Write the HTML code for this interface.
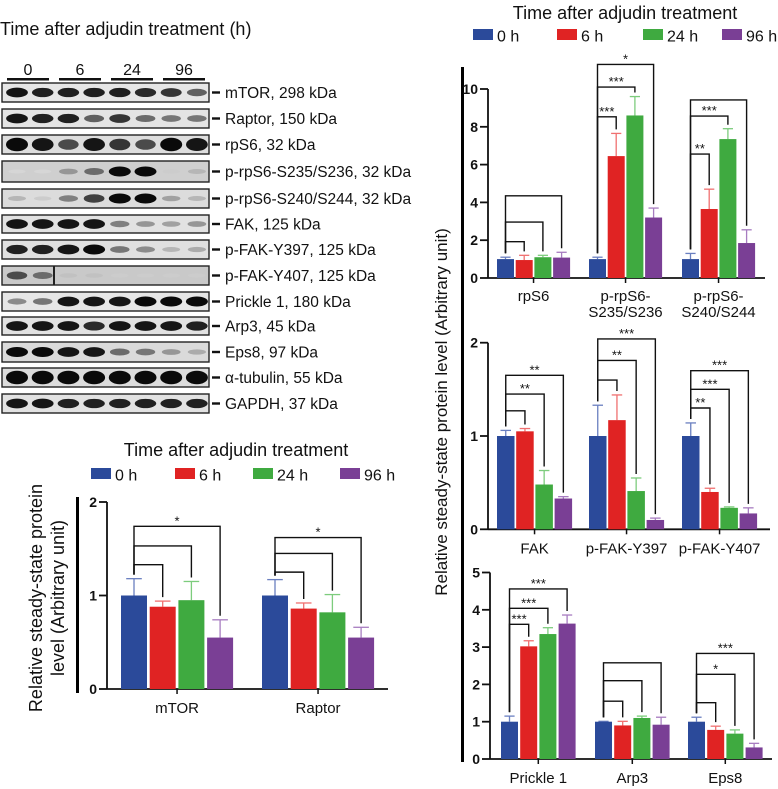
<!DOCTYPE html>
<html><head><meta charset="utf-8">
<style>
html,body{margin:0;padding:0;background:#fff;}
svg{display:block;font-family:"Liberation Sans",Arial,sans-serif;}
</style></head>
<body>
<svg id="fig" width="778" height="789" viewBox="0 0 778 789" xmlns="http://www.w3.org/2000/svg">
  <g id="blot">
    <text x="0" y="35" font-size="18" fill="#111">Time after adjudin treatment (h)</text>
  </g>
  <g id="leftchart">
    <text x="236" y="456" font-size="18" text-anchor="middle" fill="#111">Time after adjudin treatment</text>
    <rect x="76" y="497" width="3" height="196" fill="#000"/>
    <g transform="translate(42,598) rotate(-90)">
      <text x="0" y="0" font-size="18" text-anchor="middle" fill="#111">Relative steady-state protein</text>
      <text x="0" y="22" font-size="18" text-anchor="middle" fill="#111">level (Arbitrary unit)</text>
    </g>
  </g>
  <g id="rightchart">
    <text x="625" y="19" font-size="18" text-anchor="middle" fill="#111">Time after adjudin treatment</text>
    <rect x="461" y="67" width="3" height="695" fill="#000"/>
    <text transform="translate(447,412) rotate(-90)" font-size="17" text-anchor="middle" fill="#111">Relative steady-state protein level (Arbitrary unit)</text>
  </g>
</svg>
<script>
// ---------- data ----------
const seriesNames = ["0 h","6 h","24 h","96 h"];
const blotTimes = ["0","6","24","96"];
const blotLabels = ["mTOR, 298 kDa","Raptor, 150 kDa","rpS6, 32 kDa","p-rpS6-S235/S236, 32 kDa","p-rpS6-S240/S244, 32 kDa","FAK, 125 kDa","p-FAK-Y397, 125 kDa","p-FAK-Y407, 125 kDa","Prickle 1, 180 kDa","Arp3, 45 kDa","Eps8, 97 kDa","\u03b1-tubulin, 55 kDa","GAPDH, 37 kDa"];
const bandIntensity = [
 [0.95,0.9,0.9,0.9,0.9,0.85,0.8,0.6],
 [0.95,0.9,0.9,0.6,0.8,0.55,0.5,0.5],
 [1,0.95,0.7,0.95,0.8,0.7,1,0.95],
 [0.05,0.05,0.35,0.55,1,1,0.1,0.2],
 [0.2,0.1,0.45,0.75,1,1,0.3,0.2],
 [0.95,0.95,0.95,0.95,0.45,0.35,0.3,0.35],
 [0.9,0.9,0.95,1,0.5,0.4,0.2,0.25],
 [0.7,0.55,0.15,0.15,0.1,0.1,0.1,0.1],
 [0.4,0.5,0.95,0.95,0.95,1,1,1],
 [0.95,0.95,0.95,0.85,0.95,0.95,0.95,0.9],
 [1,1,0.95,0.95,0.55,0.5,0.35,0.25],
 [1,1,1,1,1,1,1,1],
 [0.95,0.95,0.9,0.9,0.9,0.9,0.9,0.9]
];
const blotBg = ["#e6e6e6","#e4e4e4","#dedede","#cfcfcf","#dcdcdc","#e2e2e2","#e0e0e0","#c9c9c9","#e6e6e6","#e2e2e2","#dadada","#dcdcdc","#e2e2e2"];

const leftCats = [["mTOR"],["Raptor"]];
const leftMeans = [[1.0,0.88,0.95,0.55],[1.0,0.86,0.82,0.55]];
const leftErrs = [[0.18,0.06,0.2,0.19],[0.17,0.06,0.19,0.11]];
const leftBrackets = [[[1,1.33,""],[2,1.53,""],[3,1.74,"*"]],[[1,1.25,""],[2,1.45,""],[3,1.62,"*"]]];
const leftTicks = [0,1,2];

const p1Cats = [["rpS6"],["p-rpS6-","S235/S236"],["p-rpS6-","S240/S244"]];
const p1Means = [[1.0,0.95,1.1,1.08],[1.0,6.45,8.6,3.2],[1.0,3.65,7.35,1.85]];
const p1Errs = [[0.1,0.25,0.1,0.28],[0.1,1.2,1.0,0.5],[0.3,1.05,0.55,0.7]];
const p1Brackets = [[[1,1.92,""],[2,2.96,""],[3,4.35,""]],[[1,8.53,"***"],[2,10.1,"***"],[3,11.3,"*"]],[[1,6.56,"**"],[2,8.57,"***"],[3,9.42,""]]];
const p1Ticks = [0,2,4,6,8,10];

const p2Cats = [["FAK"],["p-FAK-Y397"],["p-FAK-Y407"]];
const p2Means = [[1.0,1.05,0.48,0.33],[1.0,1.17,0.41,0.1],[1.0,0.4,0.23,0.17]];
const p2Errs = [[0.06,0.03,0.15,0.02],[0.33,0.27,0.14,0.02],[0.14,0.04,0.01,0.06]];
const p2Brackets = [[[1,1.27,""],[2,1.45,"**"],[3,1.65,"**"]],[[1,1.6,""],[2,1.81,"**"],[3,2.04,"***"]],[[1,1.3,"**"],[2,1.5,"***"],[3,1.7,"***"]]];
const p2Ticks = [0,1,2];

const p3Cats = [["Prickle 1"],["Arp3"],["Eps8"]];
const p3Means = [[1.0,3.02,3.35,3.63],[1.0,0.9,1.1,0.92],[1.0,0.78,0.68,0.31]];
const p3Errs = [[0.15,0.15,0.17,0.23],[0.01,0.11,0.05,0.2],[0.12,0.1,0.1,0.11]];
const p3Brackets = [[[1,3.61,"***"],[2,4.04,"***"],[3,4.56,"***"]],[[1,1.55,""],[2,2.1,""],[3,2.58,""]],[[1,1.51,""],[2,2.27,"*"],[3,2.83,"***"]]];
const p3Ticks = [0,1,2,3,4,5];

// ---------- drawing ----------
const NS = "http://www.w3.org/2000/svg";
const COLORS = ["#2b4a9a","#e02323","#3faa40","#7a3f95"];
const ECOL = ["#6a7fc0","#f07070","#7dcc7d","#a77cc0"];
function mk(tag, parent){ const e=document.createElementNS(NS,tag); parent.appendChild(e); return e; }
function at(e,o){ for(const k in o) e.setAttribute(k,o[k]); return e; }

// blot
const blot = document.getElementById('blot');
const laneX = i => 17 + i*25.7;
const rowTops = [83,109,135,161,189,215,240,266,292,317,342,368,394];
const rowH = [19,19,19,21,19,18,19,19,19,18,20,19,19];
blotTimes.forEach((t,i)=>{
  const tx = mk('text',blot); at(tx,{x:28+i*52,y:75,'font-size':16,'text-anchor':'middle',fill:'#111'}); tx.textContent=t;
  
  
  const ln = mk('rect',blot); at(ln,{x:7+i*52,y:78,width:42,height:2.5,fill:'#111'});
  
  
});
blotLabels.forEach((lab,r)=>{
  const g = mk('g',blot);
  
  
  const y=rowTops[r], h=rowH[r];
  at(mk('rect',g),{x:2,y:y,width:207,height:h,fill:blotBg[r],stroke:'#222','stroke-width':1.4});
  bandIntensity[r].forEach((v,i)=>{
    const g2 = Math.round(225 - v*215);
    const e = mk('ellipse',g); at(e,{cx:laneX(i),cy:y+h/2,rx:8.5+v*2.5,ry:1.8+v*(r==2||r==11?5:3.2),fill:`rgb(${g2},${g2},${g2})`});
    
    
  });
  if(r==7){ at(mk('line',g),{x1:54,y1:y,x2:54,y2:y+h,stroke:'#222','stroke-width':2}); }
  at(mk('rect',g),{x:212,y:y+h/2-1.2,width:8,height:2.4,fill:'#111'});
  const t = mk('text',g); at(t,{x:225,y:y+h/2+5.5,'font-size':15.5,fill:'#111'}); t.textContent=lab;
  
  
});

// legend
function legend(parent, xs, y){
  seriesNames.forEach((n,i)=>{
    const g = mk('g',parent);
    
    
    at(mk('rect',g),{x:xs[i],y:y-7,width:20,height:11,fill:COLORS[i]});
    const t=mk('text',g); at(t,{x:xs[i]+24,y:y+5.5,'font-size':16,fill:'#111'}); t.textContent=n;
  });
}
legend(document.getElementById('leftchart'),[91,175,253,340],475);
legend(document.getElementById('rightchart'),[473,557,643,722],36);

function chart(parent, cfg, cats, means, errs, brackets, ticks){
  const y = v => cfg.y0 - v*cfg.scale;
  const top = y(ticks[ticks.length-1]);
  const ax = mk('g',parent);
  
  
  at(mk('line',ax),{x1:cfg.ax,y1:cfg.y0,x2:cfg.ax,y2:top,stroke:'#111','stroke-width':1.8});
  ticks.forEach(t=>{
    at(mk('line',ax),{x1:cfg.ax-8,y1:y(t),x2:cfg.ax,y2:y(t),stroke:'#111','stroke-width':1.8});
    const tx=mk('text',ax); at(tx,{x:cfg.ax-10,y:y(t)+5,'font-size':14,'font-weight':'bold','text-anchor':'end',fill:'#111'}); tx.textContent=t;
  });
  const base = mk('line',parent); at(base,{x1:cfg.ax,y1:cfg.y0,x2:cfg.xEnd,y2:cfg.y0,stroke:'#111','stroke-width':1.8});
  
  
  cats.forEach((cat,c)=>{
    const gx = cfg.groups[c];
    const cx = i => gx + i*cfg.pitch + cfg.w/2;
    const center = gx + (3*cfg.pitch + cfg.w)/2;
    at(mk('line',parent),{x1:center,y1:cfg.y0,x2:center,y2:cfg.y0+5,stroke:'#111','stroke-width':1.5});
    cat.forEach((line,k)=>{
      const t=mk('text',parent); at(t,{x:center,y:cfg.y0+cfg.labOff+k*16,'font-size':cfg.fs,'text-anchor':'middle',fill:'#111'}); t.textContent=line;
      
      
    });
    means[c].forEach((m,i)=>{
      const e = errs[c][i];
      const el = mk('line',parent); at(el,{x1:cx(i),y1:y(m),x2:cx(i),y2:y(m+e),stroke:ECOL[i],'stroke-width':1.3});
      
      
      at(mk('line',parent),{x1:cx(i)-cfg.w*0.3,y1:y(m+e),x2:cx(i)+cfg.w*0.3,y2:y(m+e),stroke:ECOL[i],'stroke-width':1.3});
      const r = mk('rect',parent); at(r,{x:gx+i*cfg.pitch,y:y(m),width:cfg.w,height:m*cfg.scale,fill:COLORS[i]});
      
      
    });
    brackets[c].forEach(b=>{
      const tgt=b[0], h=b[1], lab=b[2];
      const g=mk('g',parent);
      
      
      const yTgt = y(means[c][tgt]+errs[c][tgt]) - 4;
      const y0b = y(means[c][0]+errs[c][0]) - 4;
      at(mk('polyline',g),{points:`${cx(0)},${y0b} ${cx(0)},${y(h)} ${cx(tgt)},${y(h)} ${cx(tgt)},${yTgt}`,fill:'none',stroke:'#111','stroke-width':1.4});
      if(lab){ const t=mk('text',g); at(t,{x:(cx(0)+cx(tgt))/2,y:y(h)-1,'font-size':13,'text-anchor':'middle',fill:'#111'}); t.textContent=lab; }
    });
  });
}
const LC = document.getElementById('leftchart');
const RC = document.getElementById('rightchart');
chart(LC,{ax:107,y0:689,scale:93.5,groups:[121,262],w:26,pitch:28.7,xEnd:388,labOff:24,fs:15},leftCats,leftMeans,leftErrs,leftBrackets,leftTicks);
chart(RC,{ax:488,y0:278,scale:18.9,groups:[497,589,682],w:17,pitch:18.7,xEnd:765,labOff:23,fs:15},p1Cats,p1Means,p1Errs,p1Brackets,p1Ticks);
chart(RC,{ax:488,y0:529.3,scale:93.3,groups:[497,589,682],w:17.5,pitch:19.2,xEnd:770,labOff:24,fs:15},p2Cats,p2Means,p2Errs,p2Brackets,p2Ticks);
chart(RC,{ax:490,y0:759,scale:37.3,groups:[501,595,688],w:17,pitch:19.2,xEnd:772,labOff:24,fs:15},p3Cats,p3Means,p3Errs,p3Brackets,p3Ticks);
</script>
</body></html>
